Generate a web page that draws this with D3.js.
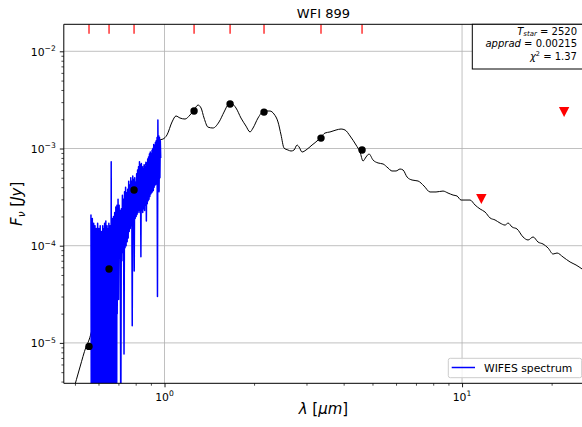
<!DOCTYPE html>
<html><head><meta charset="utf-8">
<script src="https://cdn.jsdelivr.net/npm/d3@7"></script>
<style>body{margin:0;background:#fff}svg{display:block;font-family:"DejaVu Sans",sans-serif}</style>
</head><body><svg id="c" width="582" height="427"></svg>
<script>
// ---------------- data ----------------
const titleText = "WFI 899";
const legendLabel = "WIFES spectrum";
const annotTeff = "2520";
const annotApprad = "0.00215";
const annotChi2 = "1.37";

// photometric detections (micron, Jy)
const photLambda = [0.5575, 0.651, 0.790, 1.257, 1.661, 2.160, 3.357, 4.612];
const photFlux   = [9.2e-6, 5.76e-5, 3.74e-4, 2.43e-3, 2.87e-3, 2.37e-3, 1.28e-3, 9.65e-4];
// upper limits
const limLambda = [11.61, 22.03];
const limFlux   = [3.02e-4, 2.37e-3];

// model SED
const modelLambda = [0.4925,0.520,0.5447,0.5575,0.5706,0.607,0.6507,0.698,0.742,0.790,
 0.827,0.860,0.894,0.929,0.958,0.988,1.0195,1.060,1.093,1.127,
 1.172,1.218,1.257,1.296,1.327,1.358,1.400,1.455,1.525,1.585,
 1.635,1.686,1.739,1.807,1.879,1.938,1.984,2.062,2.160,2.262,
 2.333,2.407,2.464,2.522,2.601,2.662,2.725,2.789,2.833,2.899,
 2.990,3.132,3.281,3.357,3.463,3.600,3.772,3.921,4.044,4.204,
 4.403,4.541,4.648,4.757,4.869,5.022,5.220,5.427,5.641,5.816,
 6.000,6.189,6.335,6.534,6.792,7.115,7.453,7.805,8.177,8.631,
 8.973,9.327,9.620,9.923,10.31,10.64,11.06,11.50,11.95,12.42,
 12.91,13.42,13.95,14.28,14.73,15.31,16.03,16.67,17.33,18.01,
 18.72,19.46,20.23,20.86,21.85,23.07,24.16,25.32];
const modelFlux = [3.13e-6,5.65e-6,9.08e-6,1.07e-5,1.36e-5,2.64e-5,5.62e-5,1.15e-4,2.22e-4,3.83e-4,
 5.73e-4,6.76e-4,7.98e-4,1.01e-3,1.22e-3,1.25e-3,1.38e-3,1.875e-3,2.16e-3,2.06e-3,
 2.01e-3,2.21e-3,2.49e-3,2.80e-3,2.61e-3,2.06e-3,1.66e-3,1.625e-3,1.875e-3,2.37e-3,
 2.80e-3,2.87e-3,2.61e-3,2.06e-3,1.70e-3,1.48e-3,1.625e-3,2.06e-3,2.43e-3,2.43e-3,
 2.265e-3,1.875e-3,1.38e-3,1.01e-3,9.65e-4,9.42e-4,9.65e-4,1.086e-3,1.036e-3,9.2e-4,
 9.65e-4,1.086e-3,1.22e-3,1.313e-3,1.443e-3,1.48e-3,1.55e-3,1.587e-3,1.55e-3,1.345e-3,
 1.086e-3,9.2e-4,7.44e-4,8.18e-4,8.78e-4,7.61e-4,7.10e-4,6.93e-4,6.30e-4,5.87e-4,
 5.87e-4,6.15e-4,6.01e-4,5.09e-4,4.74e-4,4.63e-4,4.11e-4,3.57e-4,3.57e-4,3.65e-4,
 3.48e-4,3.32e-4,3.245e-4,2.95e-4,2.95e-4,2.95e-4,2.62e-4,2.385e-4,2.22e-4,1.93e-4,
 1.84e-4,1.71e-4,1.63e-4,1.71e-4,1.557e-4,1.485e-4,1.23e-4,1.145e-4,1.23e-4,1.09e-4,
 1.04e-4,9.47e-5,8.21e-5,8.41e-5,7.65e-5,6.80e-5,6.33e-5,5.76e-5];

// WIFES spectrum (Angstrom, Jy)
const specWaveA = [5660,5675,5690,5705,5720,5735,5750,5765,5780,5795,
 5810,5825,5840,5855,5870,5885,5900,5915,5930,5945,
 5960,5975,5990,6005,6020,6035,6050,6065,6080,6095,
 6110,6125,6140,6155,6170,6185,6200,6215,6230,6245,
 6260,6275,6290,6305,6320,6335,6350,6365,6380,6395,
 6410,6425,6440,6455,6470,6485,6500,6515,6530,6545,
 6560,6575,6590,6605,6620,6635,6650,6665,6680,6695,
 6710,6725,6740,6755,6770,6785,6800,6815,6830,6845,
 6860,6875,6890,6905,6920,6935,6950,6965,6980,
 7010,7040,7070,7100,7130,7160,7190,7220,7250,7280,
 7310,7340,7370,7400,7430,7460,7490,7520,7550,7580,
 7610,7640,7670,7700,7730,7760,7790,7820,7850,7880,
 7910,7940,7970,8000,8030,8060,8090,8120,8150,8180,
 8210,8240,8270,8300,8330,8360,8390,8420,8450,8480,
 8510,8540,8570,8600,8630,8660,8690,8720,8750,8780,
 8810,8840,8870,8900,8930,8960,8990,9020,9050,9080,
 9110,9140,9170,9200,9230,9260,9290,9320,9350,9380,
 9410,9440,9470,9500,9530,9560,9590,9620,9650,9680,
 9710];
const specFlux = [2.1e-4,1e-6,1.5e-4,1e-6,1.9e-4,1e-6,1.2e-4,1e-6,1.7e-4,1e-6,
 1.3e-4,1e-6,1.6e-4,1e-6,1.2e-4,1e-6,1.5e-4,1e-6,1.1e-4,1e-6,
 1.7e-4,1e-6,1.3e-4,1e-6,1.5e-4,1e-6,1.2e-4,1e-6,1.6e-4,1e-6,
 1.3e-4,1e-6,1.4e-4,1e-6,1.2e-4,1e-6,1.6e-4,1e-6,1.3e-4,1e-6,
 1.5e-4,1e-6,1.7e-4,1e-6,1.3e-4,1e-6,1.8e-4,1e-6,1.4e-4,1e-6,
 1.6e-4,1e-6,1.3e-4,5e-6,1.5e-4,1e-6,1.7e-4,1e-6,1.4e-4,1e-6,
 1.6e-4,1e-6,1.3e-4,1e-6,7.3e-4,1e-6,1.5e-4,5e-6,1.9e-4,1e-6,
 1.6e-4,6e-6,2.0e-4,1e-6,1.8e-4,1e-6,2.2e-4,8e-6,2.0e-4,1e-6,
 2.5e-4,1e-6,2.2e-4,1e-6,2.6e-4,2e-5,2.3e-4,3e-5,3.0e-4,
 2.8e-5,2.6e-4,9e-5,2.3e-4,1e-6,2.4e-4,7e-5,3.3e-4,8.5e-5,3.0e-4,
 7.7e-6,3.6e-4,9.5e-5,4.0e-4,1.0e-4,3.5e-4,1.1e-4,3.8e-4,1.2e-4,4.6e-4,
 1.4e-4,4.2e-4,1.5e-4,5.0e-4,1.6e-4,4.6e-4,1.5e-5,5.2e-4,1.8e-4,4.8e-4,
 5.5e-5,5.0e-4,1.9e-4,4.5e-4,2.0e-4,5.5e-4,2.1e-4,6.0e-4,2.2e-4,6.5e-4,
 2.3e-4,7.3e-4,2.2e-4,6.8e-4,7.7e-5,7.0e-4,2.3e-4,6.5e-4,2.2e-4,6.2e-4,
 2.4e-4,6.8e-4,2.3e-4,6.5e-4,2.6e-4,7.2e-4,1.8e-4,7.0e-4,2.7e-4,7.8e-4,
 2.9e-4,8.2e-4,3.0e-4,8.8e-4,3.2e-4,9.2e-4,3.4e-4,8.8e-4,3.5e-4,9.6e-4,
 3.6e-4,1.0e-3,3.7e-4,1.1e-3,4.0e-4,1.05e-3,4.2e-4,1.15e-3,4.3e-4,1.2e-3,
 4.5e-4,1.3e-3,3.0e-5,1.96e-3,4.5e-4,1.35e-3,3.6e-4,1.3e-3,5.0e-4,1.2e-3,
 8.0e-4];

const xMajorTicks = [1, 10];
const xMajorExp = ["0", "1"];
const yMajorTicks = [1e-2, 1e-3, 1e-4, 1e-5];
const yMajorExp = ["\u22122", "\u22123", "\u22124", "\u22125"];

// ---------------- drawing ----------------
const svg = d3.select("#c");
const L = 63.8, R = 587, T = 24.3, B = 383.3;
const x = d3.scaleLog().domain([0.4587, 26.3]).range([L, R]);
const y = d3.scaleLog().domain([3.84e-6, 0.01896]).range([B, T]);

svg.append("rect").attr("width", 582).attr("height", 427).attr("fill", "#fff");
svg.append("defs").append("clipPath").attr("id", "clip")
  .append("rect").attr("x", L).attr("y", T).attr("width", R - L).attr("height", B - T);

// grid
const grid = svg.append("g").attr("stroke", "#b0b0b0").attr("stroke-width", 0.8);
grid.selectAll(".gx").data(xMajorTicks).join("line")
  .attr("x1", d => x(d)).attr("x2", d => x(d)).attr("y1", T).attr("y2", B);
grid.selectAll(".gy").data(yMajorTicks).join("line")
  .attr("x1", L).attr("x2", R).attr("y1", d => y(d)).attr("y2", d => y(d));

const plot = svg.append("g").attr("clip-path", "url(#clip)");

// model
const model = modelLambda.map((l, i) => [l, modelFlux[i]]);
plot.append("path").datum(model)
  .attr("fill", "none").attr("stroke", "#000").attr("stroke-width", 1)
  .attr("d", d3.line().x(d => x(d[0])).y(d => y(d[1])).curve(d3.curveMonotoneX));

// spectrum
const spec = specWaveA.map((w, i) => [w / 10000, specFlux[i]]);
plot.append("path").datum(spec)
  .attr("fill", "none").attr("stroke", "#0000ff").attr("stroke-width", 1.5)
  .attr("stroke-linejoin", "round")
  .attr("d", d3.line().x(d => x(d[0])).y(d => y(d[1])));

// photometry dots
plot.selectAll(".dot").data(photLambda).join("circle")
  .attr("cx", d => x(d)).attr("cy", (d, i) => y(photFlux[i])).attr("r", 3.7).attr("fill", "#000");

// upper limits
plot.selectAll(".lim").data(limLambda).join("path")
  .attr("transform", (d, i) => `translate(${x(d)},${y(limFlux[i])})`)
  .attr("d", "M-5.2,-5 L5.2,-5 L0,5 Z").attr("fill", "#ff0000");

// red filter ticks at top
plot.selectAll(".ftick").data(photLambda).join("line")
  .attr("x1", d => x(d)).attr("x2", d => x(d)).attr("y1", T).attr("y2", T + 9.5)
  .attr("stroke", "#ff0000").attr("stroke-width", 1.2);

// spines
const sp = svg.append("g").attr("stroke", "#000").attr("stroke-width", 1).attr("fill", "none");
sp.append("line").attr("x1", L).attr("x2", L).attr("y1", T).attr("y2", B);
sp.append("line").attr("x1", L).attr("x2", R).attr("y1", B).attr("y2", B);
sp.append("line").attr("x1", L).attr("x2", R).attr("y1", T).attr("y2", T);

const isMajor = d => Math.abs(Math.log10(d) - Math.round(Math.log10(d))) < 1e-9;

// x axis ticks
const xa = svg.append("g").attr("transform", `translate(0,${B})`)
  .call(d3.axisBottom(x).tickValues(x.ticks()).tickFormat("").tickSizeOuter(0));
xa.select(".domain").remove();
xa.selectAll(".tick line").attr("stroke", "#000")
  .attr("y2", d => isMajor(d) ? 4 : 2.4).attr("stroke-width", d => isMajor(d) ? 0.9 : 0.7);

// y axis ticks
const ya = svg.append("g").attr("transform", `translate(${L},0)`)
  .call(d3.axisLeft(y).tickValues(y.ticks()).tickFormat("").tickSizeOuter(0));
ya.select(".domain").remove();
ya.selectAll(".tick line").attr("stroke", "#000")
  .attr("x2", d => isMajor(d) ? -4 : -2.4).attr("stroke-width", d => isMajor(d) ? 0.9 : 0.7);

// tick labels
const fs = 10.8;
xMajorTicks.forEach((v, i) => {
  const t = svg.append("text").attr("x", x(v)).attr("y", 400.5).attr("text-anchor", "middle")
    .attr("font-size", fs).attr("fill", "#000");
  t.append("tspan").text("10");
  t.append("tspan").attr("dy", -4.5).attr("font-size", 7.6).text(xMajorExp[i]);
});
yMajorTicks.forEach((v, i) => {
  const t = svg.append("text").attr("x", L - 8).attr("y", y(v) + 4.3).attr("text-anchor", "end")
    .attr("font-size", fs).attr("fill", "#000");
  t.append("tspan").text("10");
  t.append("tspan").attr("dy", -4.5).attr("font-size", 7.6).text(yMajorExp[i]);
});

// title
svg.append("text").attr("x", (L + R) / 2 - 2).attr("y", 17.5).attr("text-anchor", "middle")
  .attr("font-size", 13).attr("fill", "#000").text(titleText);

// axis labels
const xl = svg.append("text").attr("x", (L + R) / 2 - 2).attr("y", 414).attr("text-anchor", "middle")
  .attr("font-size", 15).attr("fill", "#000");
xl.append("tspan").attr("font-style", "italic").text("\u03bb");
xl.append("tspan").text(" [");
xl.append("tspan").attr("font-style", "italic").text("\u03bcm");
xl.append("tspan").text("]");

const yl = svg.append("text").attr("transform", `translate(22,${(T + B) / 2}) rotate(-90)`)
  .attr("text-anchor", "middle").attr("font-size", 15).attr("fill", "#000");
yl.append("tspan").attr("font-style", "italic").text("F");
yl.append("tspan").attr("font-style", "italic").attr("font-size", 10.5).attr("dy", 3).text("\u03bd");
yl.append("tspan").attr("dy", -3).text(" [");
yl.append("tspan").attr("font-style", "italic").text("Jy");
yl.append("tspan").text("]");

// annotation box
svg.append("rect").attr("x", 472.3).attr("y", T).attr("width", 130).attr("height", 44.7)
  .attr("fill", "#fff").attr("stroke", "#000").attr("stroke-width", 1);
const ax = 577, afs = 10;
const a1 = svg.append("text").attr("x", ax).attr("y", 34.8).attr("text-anchor", "end").attr("font-size", afs);
a1.append("tspan").attr("font-style", "italic").text("T");
a1.append("tspan").attr("font-style", "italic").attr("font-size", 7).attr("dy", 1.5).text("star");
a1.append("tspan").attr("dy", -1.5).text(" = " + annotTeff);
const a2 = svg.append("text").attr("x", ax).attr("y", 47.2).attr("text-anchor", "end").attr("font-size", afs);
a2.append("tspan").attr("font-style", "italic").text("apprad");
a2.append("tspan").text(" = " + annotApprad);
const a3 = svg.append("text").attr("x", ax).attr("y", 59.6).attr("text-anchor", "end").attr("font-size", afs);
a3.append("tspan").attr("font-style", "italic").text("\u03c7");
a3.append("tspan").attr("font-size", 6.5).attr("dy", -3.5).text("2");
a3.append("tspan").attr("dy", 3.5).text(" = " + annotChi2);

// legend
const lg = svg.append("g");
lg.append("rect").attr("x", 448.3).attr("y", 358.3).attr("width", 133.4).attr("height", 19.4).attr("rx", 2)
  .attr("fill", "#fff").attr("fill-opacity", 0.8).attr("stroke", "#cccccc").attr("stroke-width", 1);
lg.append("line").attr("x1", 451.7).attr("x2", 475).attr("y1", 367.5).attr("y2", 367.5)
  .attr("stroke", "#0000ff").attr("stroke-width", 1.5);
lg.append("text").attr("x", 484).attr("y", 371.6).attr("font-size", fs).attr("fill", "#000").text(legendLabel);
</script></body></html>
